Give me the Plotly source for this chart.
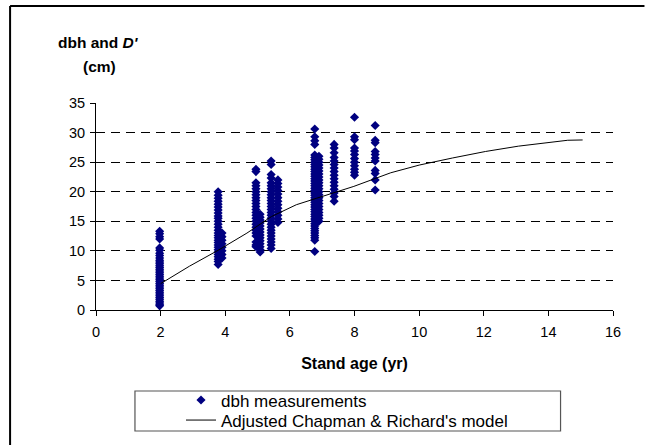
import plotly.graph_objects as go

# --- dbh measurements: one list per stand-age column ---
age_a = 1.97
dbh_a = [13.3, 12.9, 12.4, 12.0, 10.5, 10.1, 9.6, 9.2, 8.8, 8.4, 8.1, 7.8, 7.5, 7.2, 6.9,
         6.6, 6.3, 6.0, 5.7, 5.4, 5.1, 4.8, 4.5, 4.2, 3.9, 3.6, 3.3, 3.0, 2.7, 2.4, 2.1,
         1.8, 1.5, 1.2, 0.9, 0.7]
age_b = 3.78
dbh_b = [20.0, 19.4, 18.9, 18.4, 17.9, 17.4, 16.9, 16.4, 15.9, 15.5, 15.0, 14.5, 14.0,
         13.5, 13.0, 12.6, 12.2, 11.8, 11.4, 11.0, 10.6, 10.2, 9.8, 9.4, 9.0, 8.6, 8.2, 7.7]
age_c = 3.9
dbh_c = [13.0, 12.4, 11.8, 11.2, 10.6, 10.0, 9.4, 8.8]
age_d = 4.95
dbh_d = [23.8, 23.4, 21.5, 21.0, 20.5, 20.0, 19.5, 19.0, 18.5, 18.0, 17.5, 17.0, 16.5,
         16.0, 15.5, 15.0, 14.5, 14.0, 13.5, 13.0, 12.5, 11.5, 11.0, 10.7]
age_e = 5.08
dbh_e = [16.2, 15.7, 15.2, 14.7, 14.2, 13.7, 13.2, 12.7, 12.2, 11.7, 11.2, 10.7, 10.2, 9.8]
age_f = 5.42
dbh_f = [25.2, 24.6, 22.9, 22.3, 21.5, 21.0, 20.5, 20.0, 19.5, 19.0, 18.5, 18.0, 17.5,
         17.0, 16.5, 16.0, 15.5, 15.0, 14.5, 14.0, 13.5, 13.0, 12.5, 12.0, 11.5, 11.0, 10.4]
age_g = 5.63
dbh_g = [22.0, 21.4, 20.8, 20.2, 19.6, 19.0, 18.4, 17.8, 17.2, 16.6, 16.0, 15.4, 14.8]
age_h = 6.77
dbh_h = [30.6, 29.3, 28.6, 28.0, 26.2, 25.8, 25.4, 25.0, 24.6, 24.2, 23.8, 23.4, 23.0,
         22.6, 22.2, 21.8, 21.4, 21.0, 20.6, 20.2, 19.8, 19.4, 19.0, 18.6, 18.2, 17.8,
         17.4, 17.0, 16.6, 16.2, 15.8, 15.4, 15.0, 14.6, 14.2, 13.8, 13.4, 13.0, 12.6,
         12.2, 11.8, 9.9]
age_i = 6.9
dbh_i = [26.0, 25.5, 25.0, 24.5, 24.0, 23.5, 23.0, 22.5, 22.0, 21.5, 21.0, 20.5, 20.0,
         19.5, 19.0, 18.5, 18.0, 17.5, 17.0, 16.5, 16.0, 15.5, 15.0]
age_j = 7.37
dbh_j = [28.0, 27.4, 26.6, 25.8, 25.2, 24.6, 24.0, 23.4, 22.8, 22.2, 21.6, 21.0, 20.4,
         19.8, 19.2, 18.4]
age_k = 8.0
dbh_k = [32.6, 29.3, 28.8, 27.4, 26.9, 26.3, 25.6, 25.0, 24.4, 23.8, 23.3, 22.8]
age_l = 8.64
dbh_l = [31.2, 28.7, 28.3, 26.8, 26.3, 25.7, 25.2, 23.6, 23.1, 22.0, 20.3]

# --- Adjusted Chapman & Richard's model ---
model_age = [2.0, 2.89, 3.78, 4.67, 5.43, 6.2, 6.83, 7.98, 9.12, 10.0, 11.03, 12.05,
             13.07, 14.08, 14.6, 15.06]
model_d = [4.45, 7.4, 10.1, 13.0, 15.8, 17.8, 18.9, 20.9, 23.2, 24.5, 25.7, 26.8,
           27.7, 28.4, 28.7, 28.75]

x_ticks = [0, 2, 4, 6, 8, 10, 12, 14, 16]
y_ticks = [0, 5, 10, 15, 20, 25, 30, 35]

cols = [(age_a, dbh_a), (age_b, dbh_b), (age_c, dbh_c), (age_d, dbh_d), (age_e, dbh_e),
        (age_f, dbh_f), (age_g, dbh_g), (age_h, dbh_h), (age_i, dbh_i), (age_j, dbh_j),
        (age_k, dbh_k), (age_l, dbh_l)]
xs, ys = [], []
for a, vals in cols:
    xs += [a] * len(vals)
    ys += vals

FONT = "Liberation Sans, Arial, sans-serif"
W, H = 645, 445
L, R, T, B = 96, 31.5, 103, 135
pw, ph = W - L - R, H - T - B

def px_x(p):
    return (p - L) / pw

def px_y(p):
    return (H - B - p) / ph

fig = go.Figure()
fig.add_trace(go.Scatter(x=xs, y=ys, mode="markers", name="dbh measurements",
                         legend="legend",
                         marker=dict(symbol="diamond", size=7, color="#000080",
                                     line=dict(width=0))))
fig.add_trace(go.Scatter(x=model_age, y=model_d, mode="lines",
                         name="Adjusted Chapman & Richard's model",
                         legend="legend2",
                         line=dict(color="black", width=1)))

leg_common = dict(xref="container", yref="container", xanchor="left", yanchor="middle",
                  bgcolor="rgba(0,0,0,0)", borderwidth=0,
                  font=dict(family=FONT, size=17, color="black"),
                  itemsizing="trace")

fig.update_layout(
    width=W, height=H,
    margin=dict(l=L, r=R, t=T, b=B, autoexpand=False),
    paper_bgcolor="white", plot_bgcolor="white",
    font=dict(family=FONT, size=14.5, color="black"),
    showlegend=True,
    legend=dict(x=181 / W, y=1 - 400.5 / H, **leg_common),
    legend2=dict(x=181 / W, y=1 - 420.5 / H, **leg_common),
    xaxis=dict(range=[0, 16], tickvals=x_ticks, ticks="outside", ticklen=5,
               tickcolor="black", showline=True, linecolor="black", linewidth=1,
               showgrid=False, zeroline=False, fixedrange=True, automargin=False,
               tickfont=dict(family=FONT, size=14.5), ticklabelstandoff=4,
               title=dict(text="<b>Stand age (yr)</b>",
                          font=dict(family=FONT, size=16), standoff=18)),
    yaxis=dict(range=[0, 35], tickvals=y_ticks, ticks="outside", ticklen=5,
               tickcolor="black", showline=True, linecolor="black", linewidth=1,
               showgrid=True, gridcolor="black", griddash="9px,6px", gridwidth=1,
               zeroline=False, fixedrange=True, automargin=False,
               tickfont=dict(family=FONT, size=14.5), ticklabelstandoff=2),
    shapes=[
        dict(type="line", xref="paper", yref="paper",
             x0=px_x(10), x1=px_x(10), y0=px_y(445), y1=px_y(6),
             line=dict(color="black", width=2)),
        dict(type="line", xref="paper", yref="paper",
             x0=px_x(10), x1=px_x(645), y0=px_y(6), y1=px_y(6),
             line=dict(color="black", width=2)),
        dict(type="rect", xref="paper", yref="paper",
             x0=px_x(135), x1=px_x(561), y0=px_y(431), y1=px_y(391),
             line=dict(color="#555555", width=1.2), fillcolor="rgba(0,0,0,0)"),
    ],
    annotations=[
        dict(text="<b>dbh and <i>D'</i></b>", xref="paper", yref="paper",
             x=px_x(56), y=px_y(42), xanchor="left", yanchor="middle",
             showarrow=False, font=dict(family=FONT, size=15.5)),
        dict(text="<b>(cm)</b>", xref="paper", yref="paper",
             x=px_x(81), y=px_y(66), xanchor="left", yanchor="middle",
             showarrow=False, font=dict(family=FONT, size=15.5)),
    ],
)

fig.write_html(
    "out.html",
    post_script="document.documentElement.style.overflow='hidden';"
                "document.body.style.overflow='hidden';document.body.style.margin='0';",
)
